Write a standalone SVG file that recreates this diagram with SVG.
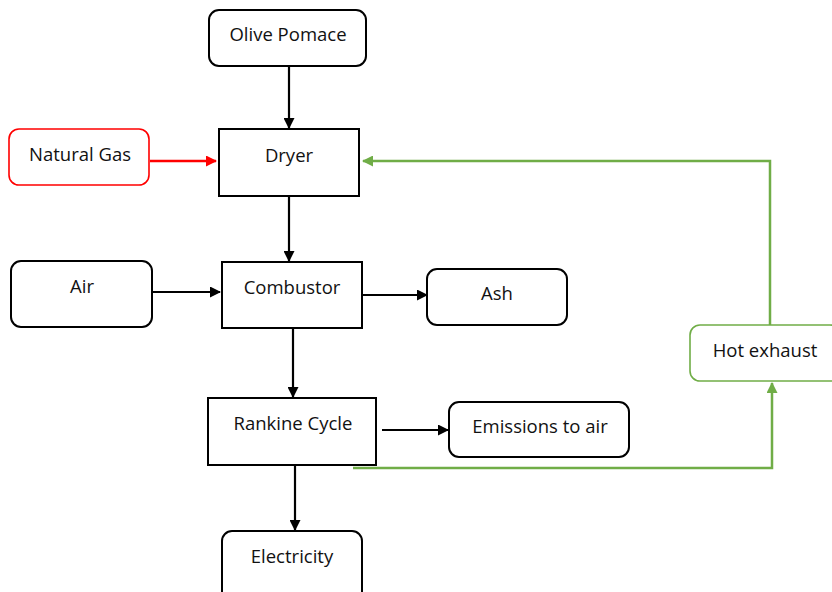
<svg xmlns="http://www.w3.org/2000/svg" width="832" height="592" viewBox="0 0 832 592">
<style>
.n{fill:#fff;stroke:#000;stroke-width:2}
.r{fill:#fff;stroke:#f00;stroke-width:1.6}
.g{fill:#fff;stroke:#70ad47;stroke-width:1.6}
.t{font-family:"Open Sans","Liberation Sans",sans-serif;font-size:18.5px;fill:#111;text-anchor:middle}
.c{fill:none;stroke:#000;stroke-width:2.2}
.cr{fill:none;stroke:#f00;stroke-width:2.5}
.cg{fill:none;stroke:#70ad47;stroke-width:2.5}
</style>
<defs>
<marker id="ab" markerWidth="11" markerHeight="11" refX="10" refY="5.5" orient="auto" markerUnits="userSpaceOnUse"><path d="M0,0 L11,5.5 L0,11 z" fill="#000"/></marker>
<marker id="ar" markerWidth="11" markerHeight="11" refX="10" refY="5.5" orient="auto" markerUnits="userSpaceOnUse"><path d="M0,0 L11,5.5 L0,11 z" fill="#f00"/></marker>
<marker id="ag" markerWidth="11" markerHeight="11" refX="10" refY="5.5" orient="auto" markerUnits="userSpaceOnUse"><path d="M0,0 L11,5.5 L0,11 z" fill="#70ad47"/></marker>
</defs>
<rect width="832" height="592" fill="#fff"/>
<g id="connectors">
<path class="c" d="M289,66 V128" marker-end="url(#ab)"/>
<path class="cr" d="M150,161 H216" marker-end="url(#ar)"/>
<path class="cg" d="M770,325 V161 H363" marker-end="url(#ag)"/>
<path class="c" d="M289,197 V261" marker-end="url(#ab)"/>
<path class="c" d="M152,292 H220" marker-end="url(#ab)"/>
<path class="c" d="M362,295 H427" marker-end="url(#ab)"/>
<path class="c" d="M293,328 V397" marker-end="url(#ab)"/>
<path class="c" d="M382,430 H448" marker-end="url(#ab)"/>
<path class="cg" d="M353,468 H772 V383" marker-end="url(#ag)"/>
<path class="c" d="M295,466 V530" marker-end="url(#ab)"/>
</g>
<g id="olive-pomace"><rect class="n" x="209" y="10" width="157" height="56" rx="10"/><text class="t" x="288" y="41">Olive Pomace</text></g>
<g id="natural-gas"><rect class="r" x="9" y="129" width="140" height="56" rx="10"/><text class="t" x="80" y="161">Natural Gas</text></g>
<g id="dryer"><rect class="n" x="219" y="129" width="140" height="67"/><text class="t" x="289" y="162">Dryer</text></g>
<g id="air"><rect class="n" x="11" y="261" width="141" height="66" rx="10"/><text class="t" x="82" y="293">Air</text></g>
<g id="combustor"><rect class="n" x="222" y="262" width="140" height="66"/><text class="t" x="292" y="294">Combustor</text></g>
<g id="ash"><rect class="n" x="427" y="269" width="140" height="56" rx="10"/><text class="t" x="497" y="300">Ash</text></g>
<g id="hot-exhaust"><rect class="g" x="690" y="325" width="150" height="56" rx="10"/><text class="t" x="765" y="357">Hot exhaust</text></g>
<g id="rankine-cycle"><rect class="n" x="208" y="398" width="168" height="67"/><text class="t" x="293" y="430">Rankine Cycle</text></g>
<g id="emissions"><rect class="n" x="449" y="402" width="180" height="55" rx="10"/><text class="t" x="540" y="433">Emissions to air</text></g>
<g id="electricity"><rect class="n" x="222" y="531" width="140" height="70" rx="10"/><text class="t" x="292" y="563">Electricity</text></g>
</svg>
